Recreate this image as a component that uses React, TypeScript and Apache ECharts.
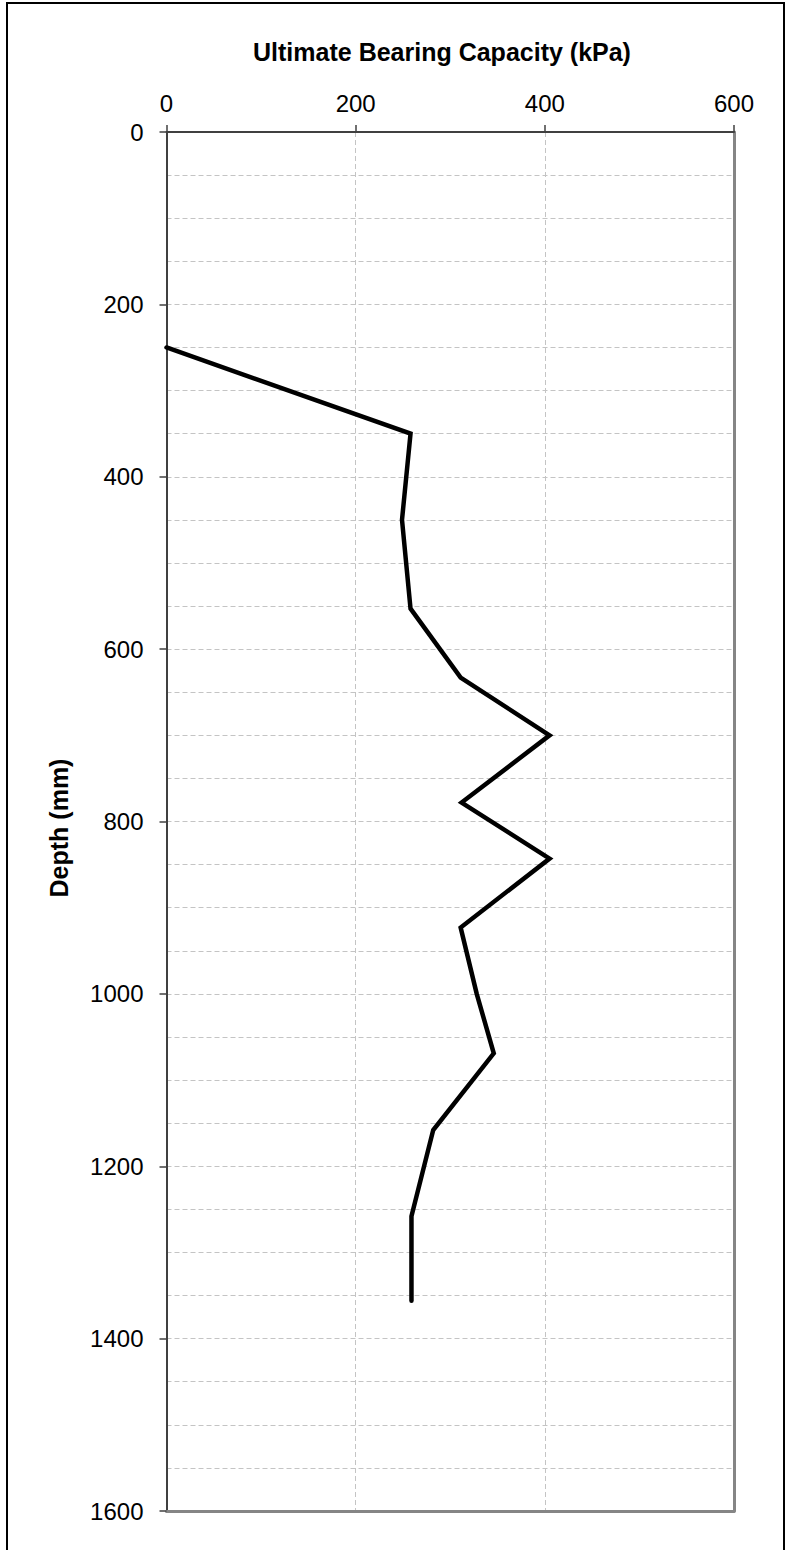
import React, { useEffect, useRef } from "react";
import * as echarts from "echarts";

const xTitle = "Ultimate Bearing Capacity (kPa)";
const yTitle = "Depth (mm)";
const xMin = 0;
const xMax = 600;
const xStep = 200;
const yMin = 0;
const yMax = 1600;
const yStep = 200;
const yMinorSplits = 4;

const depths = [250, 350, 450, 553, 633, 700, 778, 843, 923, 1000, 1069, 1158, 1258, 1356];
const capacities = [0, 258, 249, 258, 311, 405, 312, 405, 311, 328, 346, 282, 259, 259];

const FONT = "Liberation Sans";
const gridDash = { color: "#c4c4c4", width: 1, type: [5, 3] as any };
const plain = (v: number) => String(v);

export default function App() {
  const ref = useRef<HTMLDivElement>(null);
  useEffect(() => {
    if (!ref.current) return;
    const chart = echarts.init(ref.current, undefined, { renderer: "svg" });
    const seriesData = depths.map((d, i) => [capacities[i], d]);
    chart.setOption({
      animation: false,
      backgroundColor: "transparent",
      textStyle: { fontFamily: FONT },
      grid: { left: 166.5, top: 132, width: 567.5, height: 1379 },
      xAxis: [
        {
          type: "value",
          position: "top",
          min: xMin,
          max: xMax,
          interval: xStep,
          axisLine: { show: true, onZero: false, lineStyle: { color: "#404040", width: 2 } },
          axisTick: { show: true, length: 7, lineStyle: { color: "#404040", width: 1.5 } },
          axisLabel: { fontSize: 24, lineHeight: 24, color: "#000", fontFamily: FONT, margin: 17, formatter: plain },
          splitLine: { show: true, lineStyle: gridDash },
        },
        {
          type: "value",
          position: "bottom",
          min: xMin,
          max: xMax,
          axisLine: { show: true, onZero: false, lineStyle: { color: "#858585", width: 3 } },
          axisTick: { show: false },
          axisLabel: { show: false },
          splitLine: { show: false },
        },
      ],
      yAxis: [
        {
          type: "value",
          inverse: true,
          position: "left",
          min: yMin,
          max: yMax,
          interval: yStep,
          axisLine: { show: true, onZero: false, lineStyle: { color: "#404040", width: 2 } },
          axisTick: { show: true, length: 7, lineStyle: { color: "#404040", width: 1.5 } },
          axisLabel: { fontSize: 24, lineHeight: 24, color: "#000", fontFamily: FONT, margin: 23, formatter: plain },
          splitLine: { show: true, lineStyle: gridDash },
          minorTick: { show: false, splitNumber: yMinorSplits },
          minorSplitLine: { show: true, lineStyle: gridDash },
        },
        {
          type: "value",
          inverse: true,
          position: "right",
          min: yMin,
          max: yMax,
          axisLine: { show: true, onZero: false, lineStyle: { color: "#858585", width: 3 } },
          axisTick: { show: false },
          axisLabel: { show: false },
          splitLine: { show: false },
        },
      ],
      graphic: [
        {
          type: "text",
          x: 442,
          y: 52,
          style: {
            text: xTitle,
            fontSize: 25,
            fontWeight: "bold",
            fontFamily: FONT,
            fill: "#000",
            textAlign: "center",
            textVerticalAlign: "middle",
          },
        },
        {
          type: "text",
          x: 59,
          y: 828,
          rotation: Math.PI / 2,
          style: {
            text: yTitle,
            fontSize: 25,
            fontWeight: "bold",
            fontFamily: FONT,
            fill: "#000",
            textAlign: "center",
            textVerticalAlign: "middle",
          },
        },
      ],
      series: [
        {
          type: "line",
          xAxisIndex: 0,
          yAxisIndex: 0,
          data: seriesData,
          showSymbol: false,
          symbol: "none",
          clip: true,
          lineStyle: { color: "#000", width: 4.5, join: "miter", cap: "round" },
          z: 5,
        },
      ],
    });
    return () => chart.dispose();
  }, []);

  return (
    <div style={{ position: "absolute", left: 0, top: 0, width: 786, height: 1550, overflow: "hidden", background: "#fff" }}>
      <div
        style={{
          position: "absolute",
          left: 6,
          top: 2,
          width: 779,
          height: 1600,
          border: "2px solid #000",
          boxSizing: "border-box",
        }}
      />
      <div ref={ref} style={{ position: "absolute", left: 0, top: 0, width: 786, height: 1550 }} />
    </div>
  );
}
